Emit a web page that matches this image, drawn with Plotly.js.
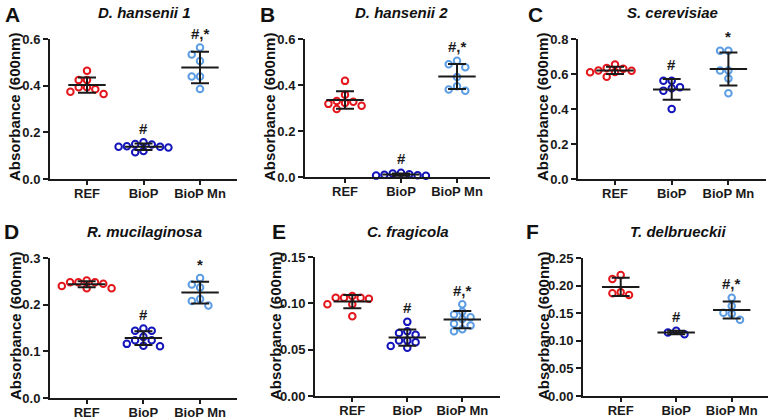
<!DOCTYPE html>
<html><head><meta charset="utf-8">
<script src="https://cdn.plot.ly/plotly-3.0.1.min.js"></script>
<style>body{margin:0;background:#fff}#chart{width:771px;height:419px}</style>
</head><body><div id="chart"></div>
<script>
// ---------- data ----------
const groups = ["REF", "BioP", "BioP Mn"];
const panelLetters = ["A", "B", "C", "D", "E", "F"];
const panelTitles = ["D. hansenii 1", "D. hansenii 2", "S. cerevisiae", "R. mucilaginosa", "C. fragicola", "T. delbrueckii"];
const yTitle = "Absorbance (600nm)";

const aREF = [0.464, 0.424, 0.424, 0.393, 0.385, 0.393, 0.364, 0.374];
const aBioP = [0.138, 0.150, 0.140, 0.148, 0.158, 0.138, 0.115, 0.120, 0.135];
const aBioPMn = [0.564, 0.534, 0.506, 0.439, 0.439, 0.386];
const aSig = ["", "#", "#,*"];

const bREF = [0.418, 0.358, 0.327, 0.322, 0.330, 0.310, 0.318, 0.296];
const bBioP = [0.005, 0.015, 0.008, 0.012, 0.018, 0.006, 0.010];
const bBioPMn = [0.505, 0.490, 0.477, 0.435, 0.395, 0.375, 0.380];
const bSig = ["", "#", "#,*"];

const cREF = [0.630, 0.655, 0.635, 0.620, 0.618, 0.612, 0.585, 0.610];
const cBioP = [0.562, 0.562, 0.525, 0.518, 0.505, 0.400];
const cBioPMn = [0.733, 0.733, 0.620, 0.620, 0.575, 0.490];
const cSig = ["", "#", "*"];

const dREF = [0.248, 0.248, 0.252, 0.245, 0.248, 0.235, 0.240, 0.235];
const dBioP = [0.144, 0.149, 0.144, 0.124, 0.131, 0.124, 0.111, 0.116, 0.112];
const dBioPMn = [0.257, 0.243, 0.237, 0.212, 0.208, 0.198];
const dSig = ["", "#", "*"];

const eREF = [0.106, 0.106, 0.106, 0.105, 0.108, 0.099, 0.099, 0.086];
const eBioP = [0.080, 0.068, 0.070, 0.066, 0.060, 0.060, 0.058, 0.052, 0.054];
const eBioPMn = [0.099, 0.091, 0.088, 0.085, 0.083, 0.078, 0.076, 0.072, 0.070];
const eSig = ["", "#", "#,*"];

const fREF = [0.212, 0.219, 0.183, 0.186, 0.188];
const fBioP = [0.112, 0.118, 0.115];
const fBioPMn = [0.178, 0.163, 0.151, 0.149, 0.138];
const fSig = ["", "#", "#,*"];

const yMax = [0.6, 0.6, 0.8, 0.3, 0.15, 0.25];
const yStep = [0.2, 0.2, 0.2, 0.1, 0.05, 0.05];

// ---------- layout / styling ----------
const W = 771, H = 419;
const colors = ["#e3161c", "#1414bb", "#5c9de3"];
const FONT = "Liberation Sans, Arial, sans-serif";
const panelData = [
  [aREF, aBioP, aBioPMn, aSig], [bREF, bBioP, bBioPMn, bSig], [cREF, cBioP, cBioPMn, cSig],
  [dREF, dBioP, dBioPMn, dSig], [eREF, eBioP, eBioPMn, eSig], [fREF, fBioP, fBioPMn, fSig]
];
// plot boxes in pixels
const box = [
  {xl: 50, xr: 237, yt: 39, yb: 179, c0: 87, sp: 56.5},
  {xl: 305, xr: 490, yt: 39, yb: 177, c0: 345, sp: 56},
  {xl: 578, xr: 766, yt: 39, yb: 179, c0: 615, sp: 56.7},
  {xl: 50, xr: 237, yt: 258, yb: 398, c0: 86.7, sp: 56.7},
  {xl: 315, xr: 500, yt: 257, yb: 396, c0: 352.3, sp: 55},
  {xl: 583, xr: 768, yt: 258, yb: 396, c0: 620.7, sp: 55.5}
];
const letterPos = [[12, 14], [267, 14], [535, 14], [11, 232], [279, 232], [532, 232]];
const titlePos = [[144.5, 13], [401, 13], [672, 13], [144, 232], [407.6, 232], [677.5, 232]];
const yTitlePos = [[15, 107], [270, 107], [543, 107], [15, 326], [275, 326], [543, 326]];

function mean(a) { return a.reduce((s, v) => s + v, 0) / a.length; }
function sd(a) { const m = mean(a); return Math.sqrt(a.reduce((s, v) => s + (v - m) * (v - m), 0) / (a.length - 1)); }

// simple beeswarm: spread overlapping points sideways
function swarm(vals, pxPerUnitY, stepX) {
  const idx = vals.map((v, i) => i).sort((p, q) => vals[q] - vals[p]);
  const placed = [];
  const off = new Array(vals.length).fill(0);
  const order = [0, -1, 1, -2, 2, -3, 3, -4, 4];
  idx.forEach(i => {
    for (const k of order) {
      const clash = placed.some(p => p.k === k && Math.abs(p.v - vals[i]) * pxPerUnitY < 7.2);
      if (!clash) { placed.push({k: k, v: vals[i]}); off[i] = k * stepX; break; }
    }
  });
  return off;
}

const traces = [];
const annotations = [];
const layout = {
  width: W, height: H, margin: {l: 0, r: 0, t: 0, b: 0},
  paper_bgcolor: "#fff", plot_bgcolor: "#fff", showlegend: false,
  font: {family: FONT, color: "#1a1a1a"}
};

panelData.forEach((pd, p) => {
  const b = box[p];
  const sfx = p === 0 ? "" : String(p + 1);
  const xa = "x" + sfx, ya = "y" + sfx;
  const pxY = (b.yb - b.yt) / yMax[p];
  const stepX = 8.3 / b.sp;
  const halfMean = 18.7 / b.sp;
  const sig = pd[3];
  groups.forEach((g, gi) => {
    const vals = pd[gi];
    const off = swarm(vals, pxY, stepX);
    traces.push({
      type: "scatter", mode: "markers", xaxis: xa, yaxis: ya,
      x: vals.map((v, i) => gi + off[i]), y: vals, cliponaxis: false,
      marker: {symbol: "circle-open", size: 6.5, color: colors[gi], line: {width: 2, color: colors[gi]}},
      hoverinfo: "skip"
    });
    const m = mean(vals), s = sd(vals);
    traces.push({
      type: "scatter", mode: "lines", xaxis: xa, yaxis: ya,
      x: [gi - halfMean, gi + halfMean], y: [m, m],
      line: {color: "#1a1a1a", width: 2}, hoverinfo: "skip"
    });
    traces.push({
      type: "scatter", mode: "markers", xaxis: xa, yaxis: ya,
      x: [gi], y: [m], marker: {size: 1, opacity: 0},
      error_y: {type: "data", array: [s], visible: true, width: 9, thickness: 2, color: "#1a1a1a"},
      hoverinfo: "skip"
    });
    if (sig[gi]) {
      annotations.push({
        xref: xa, yref: ya, x: gi, y: Math.max(Math.max(...vals), m + s),
        text: "<b>" + sig[gi] + "</b>", showarrow: false, yshift: 14,
        font: {family: FONT, size: 15, color: "#1a1a1a"}
      });
    }
  });
  const ticks = [];
  for (let t = 0; t <= yMax[p] + 1e-9; t += yStep[p]) ticks.push(+t.toFixed(4));
  layout["xaxis" + sfx] = {
    domain: [b.xl / W, b.xr / W], anchor: ya,
    range: [-(b.c0 - b.xl) / b.sp, (b.xr - b.c0) / b.sp],
    tickvals: [0, 1, 2], ticktext: groups.map(g => "<b>" + g + "</b>"),
    showline: true, linecolor: "#1a1a1a", linewidth: 2, mirror: false,
    ticks: "outside", ticklen: 4, tickwidth: 2, tickcolor: "#1a1a1a",
    ticklabelstandoff: -3,
    showgrid: false, zeroline: false, fixedrange: true,
    tickfont: {family: FONT, size: 13, color: "#1a1a1a"}
  };
  layout["yaxis" + sfx] = {
    domain: [1 - b.yb / H, 1 - b.yt / H], anchor: xa,
    range: [0, yMax[p] * 1.0001],
    tickvals: ticks, ticktext: ticks.map(t => "<b>" + t.toFixed(yStep[p] < 0.1 ? 2 : 1) + "</b>"),
    showline: true, linecolor: "#1a1a1a", linewidth: 2,
    ticks: "outside", ticklen: 5, tickwidth: 2, tickcolor: "#1a1a1a",
    showgrid: false, zeroline: false, fixedrange: true,
    tickfont: {family: FONT, size: 13, color: "#1a1a1a"}
  };
  annotations.push({
    xref: "paper", yref: "paper", x: letterPos[p][0] / W, y: 1 - letterPos[p][1] / H,
    text: "<b>" + panelLetters[p] + "</b>", showarrow: false, xanchor: "center", yanchor: "middle",
    font: {family: FONT, size: 21, color: "#111"}
  });
  annotations.push({
    xref: "paper", yref: "paper", x: titlePos[p][0] / W, y: 1 - titlePos[p][1] / H,
    text: "<b><i>" + panelTitles[p] + "</i></b>", showarrow: false, xanchor: "center", yanchor: "middle",
    font: {family: FONT, size: 15, color: "#111"}
  });
  annotations.push({
    xref: "paper", yref: "paper", x: yTitlePos[p][0] / W, y: 1 - yTitlePos[p][1] / H,
    text: "<b>" + yTitle + "</b>", showarrow: false, textangle: -90, xanchor: "center", yanchor: "middle",
    font: {family: FONT, size: 15, color: "#111"}
  });
});
layout.annotations = annotations;

Plotly.newPlot("chart", traces, layout, {staticPlot: true, displayModeBar: false});
</script>
</body></html>
